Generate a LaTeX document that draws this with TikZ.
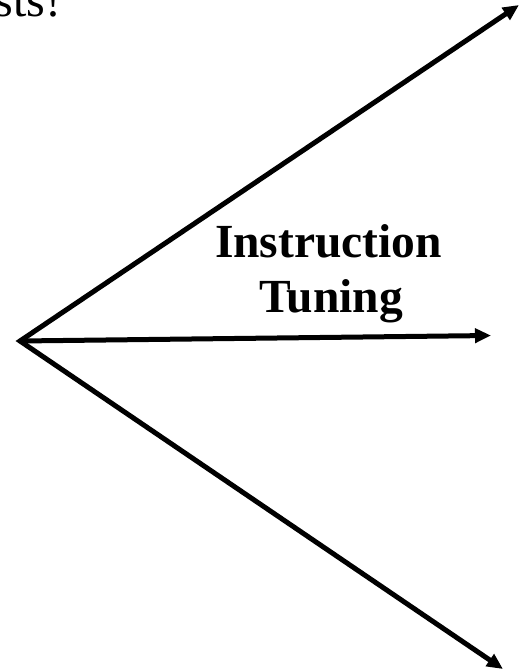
\documentclass[tikz,border=0pt]{standalone}
\usepackage{fontspec}
\setmainfont{Liberation Serif}
\usetikzlibrary{arrows.meta}
\tikzset{
  conn/.style={line width=5pt, line join=miter},
  tipA/.tip={Triangle[length=16pt,width=14pt]},
  lbl/.style={font=\bfseries\fontsize{47.5}{55}\selectfont, inner sep=0pt, anchor=base},
  cut/.style={font=\fontsize{48}{55}\selectfont, inner sep=0pt, anchor=base east}
}
\begin{document}
\begin{tikzpicture}[x=1pt,y=-1pt]
\useasboundingbox (0,0) rectangle (520,671);
\coordinate (o) at (20,341);
\coordinate (t1) at (519,5);
\coordinate (t2) at (491,335.5);
\coordinate (t3) at (503,669);
\draw[conn, tipA-tipA] (t1) -- (o) -- (t3);
\draw[conn, -tipA] (o) -- (t2);
\node[lbl] (l1) at (328.5,257) {Instruction};
\node[lbl] (l2) at (331,312) {Tuning};
\node[cut] (top) at (61.5,17) {sts!};
\end{tikzpicture}
\end{document}
